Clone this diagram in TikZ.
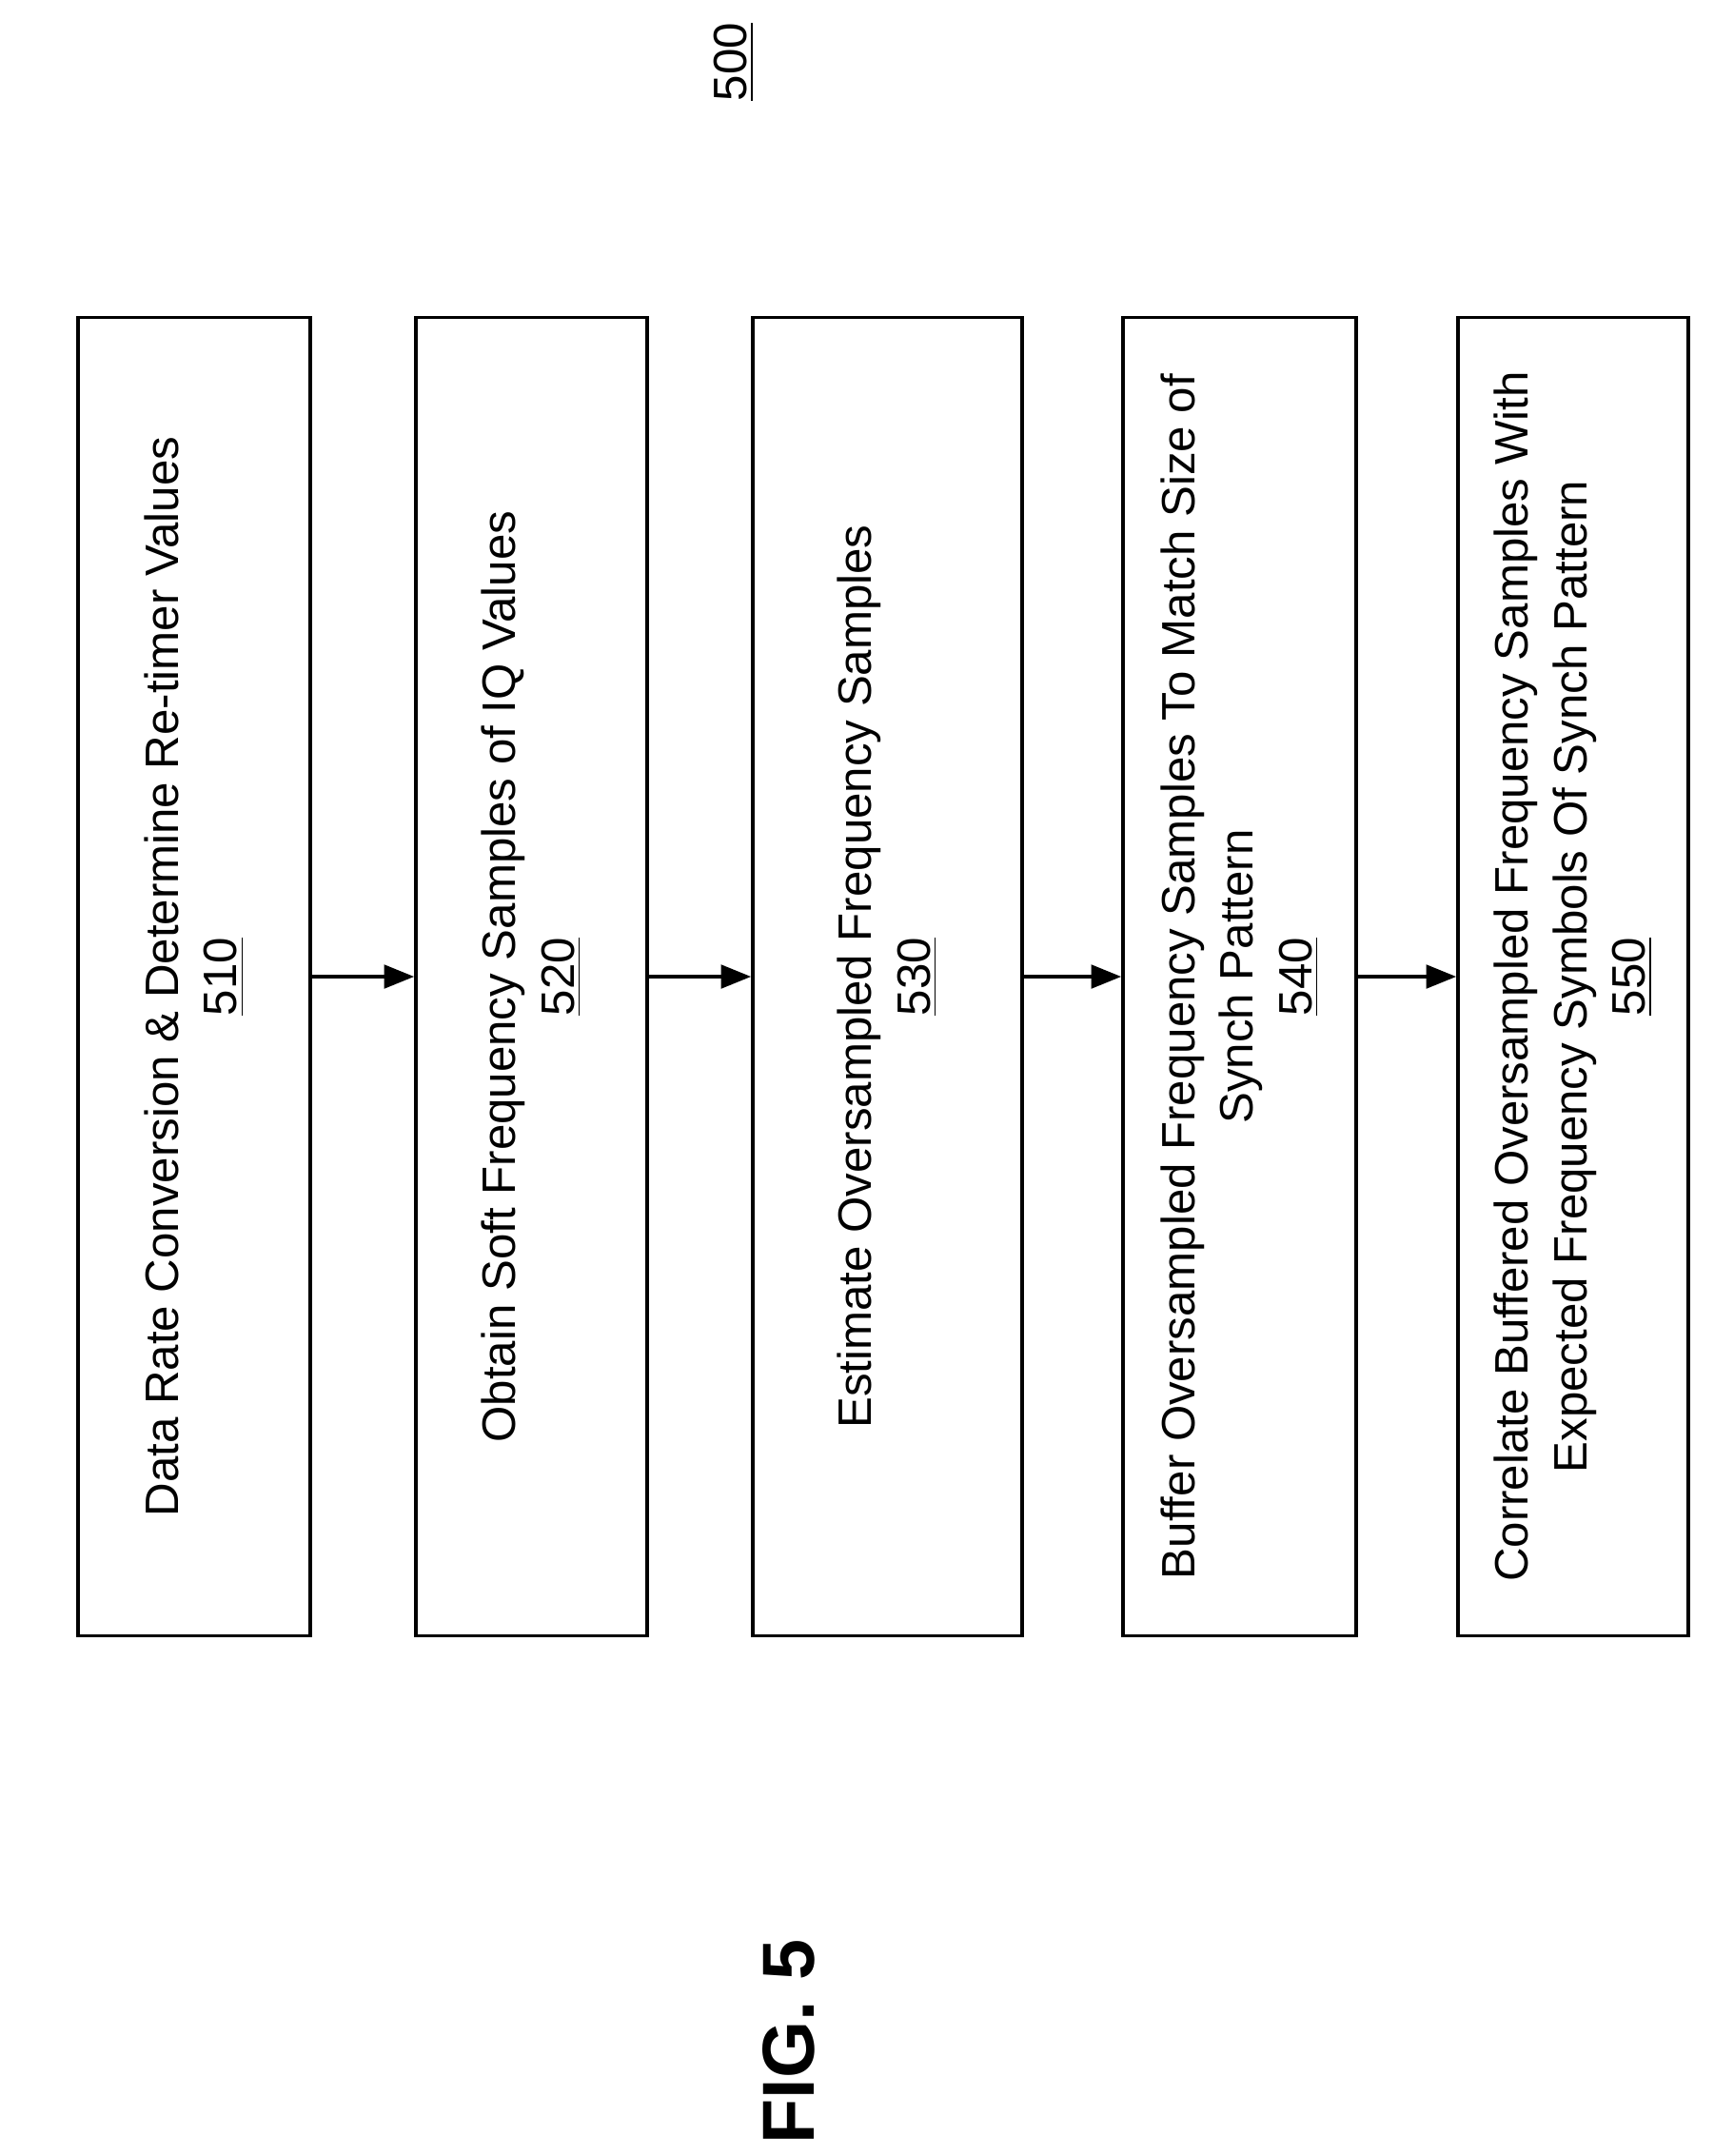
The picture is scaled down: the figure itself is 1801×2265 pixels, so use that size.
\documentclass[tikz,border=0pt]{standalone}
\usepackage{fontspec}
\setmainfont{Liberation Sans}
\usetikzlibrary{arrows.meta}
\begin{document}
\begin{tikzpicture}[x=0.01cm,y=-0.01cm,
  box/.style={draw,line width=1pt,rotate=90,align=center,font=\fontsize{14}{17.5}\selectfont,minimum width=13.84cm,inner sep=0pt},
  arr/.style={-{Triangle[length=9pt,width=7pt]},line width=1pt}]
\useasboundingbox (0,0) rectangle (1801,2265);
\node[box,minimum height=2.44cm] (b1) at (204,1026) {Data Rate Conversion \& Determine Re-timer Values\\\underline{510}};
\node[box,minimum height=2.43cm] (b2) at (558.5,1026) {Obtain Soft Frequency Samples of IQ Values\\\underline{520}};
\node[box,minimum height=2.83cm] (b3) at (932.5,1026) {Estimate Oversampled Frequency Samples\\\underline{530}};
\node[box,minimum height=2.45cm] (b4) at (1302.5,1026) {Buffer Oversampled Frequency Samples To Match Size of\\Synch Pattern\\\underline{540}};
\node[box,minimum height=2.42cm] (b5) at (1653,1026) {Correlate Buffered Oversampled Frequency Samples With\\Expected Frequency Symbols Of Synch Pattern\\\underline{550}};
\draw[arr] (b1) -- (b2);
\draw[arr] (b2) -- (b3);
\draw[arr] (b3) -- (b4);
\draw[arr] (b4) -- (b5);
\node[rotate=90,font=\fontsize{14}{17}\selectfont] (n500) at (771,65) {\underline{500}};
\node[rotate=90,font=\fontsize{22}{26}\selectfont\bfseries] (fig) at (829,2145) {FIG. 5};
\end{tikzpicture}
\end{document}
